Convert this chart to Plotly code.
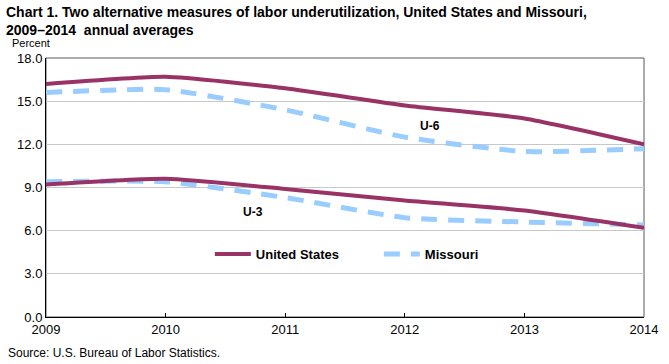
import plotly.graph_objects as go

years = [2009, 2010, 2011, 2012, 2013, 2014]
us_u6 = [16.2, 16.7, 15.9, 14.7, 13.8, 12.0]
mo_u6 = [15.6, 15.8, 14.4, 12.5, 11.5, 11.7]
us_u3 = [9.2, 9.6, 8.9, 8.1, 7.4, 6.2]
mo_u3 = [9.4, 9.4, 8.3, 6.9, 6.6, 6.4]
y_ticks = [0, 3, 6, 9, 12, 15, 18]
y_tick_labels = ["0.0", "3.0", "6.0", "9.0", "12.0", "15.0", "18.0"]

US_COLOR = "#993366"
MO_COLOR = "#99CCFF"
FONT = "Liberation Sans, Arial, sans-serif"

fig = go.Figure()
for vals, show in [(mo_u6, True), (mo_u3, False)]:
    fig.add_trace(go.Scatter(
        x=years, y=vals, mode="lines", name="Missouri", legendgroup="mo",
        showlegend=show, line=dict(color=MO_COLOR, width=5, dash="16px,11px", shape="spline", smoothing=0.5),
        hoverinfo="skip"))
for vals, show in [(us_u6, True), (us_u3, False)]:
    fig.add_trace(go.Scatter(
        x=years, y=vals, mode="lines", name="United States", legendgroup="us",
        showlegend=show, line=dict(color=US_COLOR, width=4, shape="spline", smoothing=0.5),
        hoverinfo="skip"))

fig.update_layout(
    width=669, height=364,
    margin=dict(l=46, r=25, t=58, b=47, autoexpand=False),
    paper_bgcolor="white", plot_bgcolor="white",
    font=dict(family=FONT, size=12, color="black"),
    showlegend=True,
    legend=dict(orientation="h", x=0.274, y=0.243, xanchor="left", yanchor="middle",
                traceorder="reversed", entrywidth=118, entrywidthmode="pixels",
                font=dict(family=FONT, size=13, color="black", weight="bold"),
                bgcolor="rgba(0,0,0,0)", itemwidth=36),
    xaxis=dict(range=[2009, 2014], tickvals=years, ticktext=[str(y) for y in years],
               showline=True, linecolor="black", linewidth=1, ticks="inside", ticklen=4,
               tickcolor="black", showgrid=False, zeroline=False, fixedrange=True,
               automargin=False, tickfont=dict(size=13)),
    yaxis=dict(range=[0, 18], tickvals=y_ticks, ticktext=y_tick_labels,
               showline=True, linecolor="black", linewidth=1, ticks="", showgrid=True,
               gridcolor="#C8C8C8", gridwidth=1, zeroline=False, fixedrange=True,
               automargin=False, tickfont=dict(size=13)),
    shapes=[dict(type="rect", xref="paper", yref="paper", x0=0, x1=1, y0=0, y1=1,
                 line=dict(color="#595959", width=1), layer="below")],
    annotations=[
        dict(text="<b>Chart 1. Two alternative measures of labor underutilization, United States and Missouri,<br>2009–2014  annual averages</b>",
             xref="paper", yref="paper", x=-42/598, y=1 + 56/259, xanchor="left", yanchor="top",
             align="left", showarrow=False, font=dict(size=14, family=FONT)),
        dict(text="Percent", xref="paper", yref="paper", x=-36/598, y=1 + 7/259,
             xanchor="left", yanchor="bottom", showarrow=False, font=dict(size=11, family=FONT)),
        dict(text="Source: U.S. Bureau of Labor Statistics.", xref="paper", yref="paper",
             x=-40/598, y=-27/259, xanchor="left", yanchor="top", showarrow=False,
             font=dict(size=12, family=FONT)),
        dict(text="<b>U-6</b>", x=2012.21, y=13.28, xref="x", yref="y", showarrow=False,
             font=dict(size=12, family=FONT)),
        dict(text="<b>U-3</b>", x=2010.73, y=7.29, xref="x", yref="y", showarrow=False,
             font=dict(size=12, family=FONT)),
    ],
)

fig.write_html("out.html", config={"displayModeBar": False},
               post_script="document.body.style.margin='0';document.body.style.overflow='hidden';")
